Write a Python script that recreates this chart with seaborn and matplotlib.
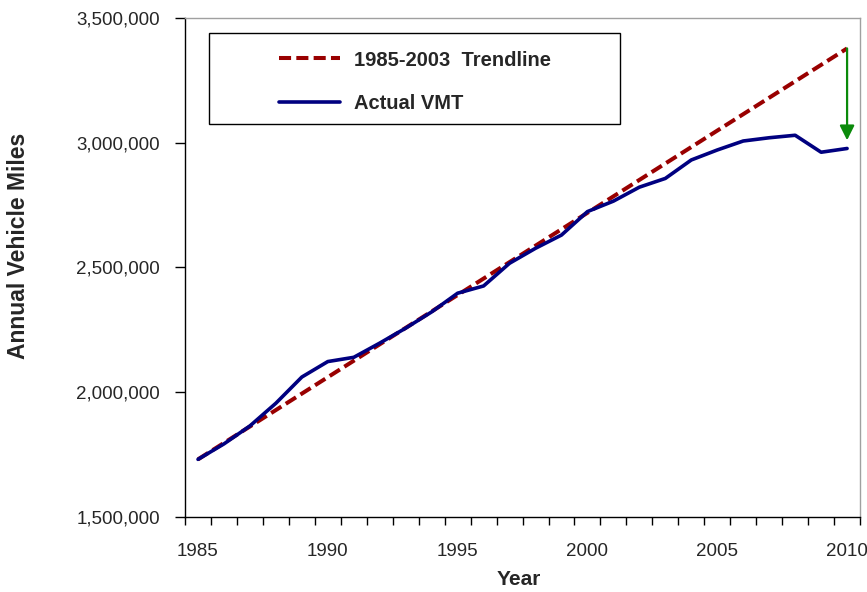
import numpy as np
import pandas as pd
import seaborn as sns
import matplotlib
matplotlib.use("Agg")
import matplotlib.pyplot as plt
from matplotlib.patches import Rectangle
from matplotlib.ticker import StrMethodFormatter

# data
years = [1985, 1986, 1987, 1988, 1989, 1990, 1991, 1992, 1993, 1994,
         1995, 1996, 1997, 1998, 1999, 2000, 2001, 2002, 2003, 2004,
         2005, 2006, 2007, 2008, 2009, 2010]
vmt = [1731000, 1793000, 1865000, 1956000, 2061000, 2123000, 2140000, 2197000,
       2257000, 2322000, 2397000, 2426000, 2517000, 2577000, 2630000, 2724000,
       2766000, 2822000, 2857000, 2931000, 2971000, 3007000, 3020000, 3030000,
       2962000, 2977000]
trend_years = [1985, 2010]
trend_vmt = [1731000, 3378000]
gap_year = 2010
gap_from = 3378000
gap_to = 3010000
xlabels = [1985, 1990, 1995, 2000, 2005, 2010]

actual = pd.DataFrame({"Year": years, "VMT": vmt})
trend = pd.DataFrame({"Year": trend_years, "VMT": trend_vmt})

sns.set_style("white")
plt.rcParams['font.family'] = ['Liberation Sans', 'DejaVu Sans']

fig = plt.figure(figsize=(8.67, 5.92), dpi=100)
ax = fig.add_axes([0.2134, 0.1267, 0.7786, 0.8429])

sns.lineplot(x="Year", y="VMT", data=trend, ax=ax, color="#990000",
             linewidth=2.9, linestyle=(0, (3, 1.3)), label="1985-2003  Trendline")
sns.lineplot(x="Year", y="VMT", data=actual, ax=ax, color="#000080",
             linewidth=2.6, label="Actual VMT")

ax.annotate("", xy=(gap_year, gap_to), xytext=(gap_year, gap_from),
            arrowprops=dict(arrowstyle="-|>", color="#0a8a0a", lw=1.6,
                            mutation_scale=22, shrinkA=0, shrinkB=0))

ax.set_xlim(1984.5, 2010.5)
ax.set_ylim(1500000, 3500000)
ax.set_yticks([1500000, 2000000, 2500000, 3000000, 3500000])
ax.yaxis.set_major_formatter(StrMethodFormatter("{x:,.0f}"))
ax.set_xticks(xlabels)
ax.set_xticks(np.arange(1984.5, 2011, 1), minor=True)
ax.tick_params(axis="x", which="major", length=0, pad=19, labelsize=13.5)
ax.tick_params(axis="x", which="minor", length=6, width=1, color="black", direction="out")
ax.tick_params(axis="y", length=7, width=1, color="black", direction="out",
               labelsize=13.5, pad=11)
ax.xaxis.set_ticks_position("bottom")
ax.yaxis.set_ticks_position("left")

for s in ["left", "bottom"]:
    ax.spines[s].set_color("black")
    ax.spines[s].set_linewidth(1.0)
for s in ["top", "right"]:
    ax.spines[s].set_color("#a0a0a0")
    ax.spines[s].set_linewidth(1.0)

ax.set_xlabel("Year", fontsize=15, fontweight="bold")
ax.xaxis.set_label_coords(0.494, -0.107)
ax.set_ylabel("Annual Vehicle Miles", fontsize=16.5, fontweight="bold")
ax.yaxis.set_label_coords(-0.23, 0.543)

# legend box
ax.add_patch(Rectangle((0.0356, 0.7876), 0.6084, 0.1824, transform=ax.transAxes,
                       fill=True, facecolor="white", edgecolor="black",
                       linewidth=1.0, zorder=4))
leg = ax.legend(loc="upper left", bbox_to_anchor=(0.125, 0.955), frameon=False,
                prop={"weight": "bold", "size": 14.5}, handlelength=3.03,
                handletextpad=0.65, labelspacing=1.22, borderpad=0)
leg.set_zorder(5)

fig.savefig("out.png", dpi=100)
